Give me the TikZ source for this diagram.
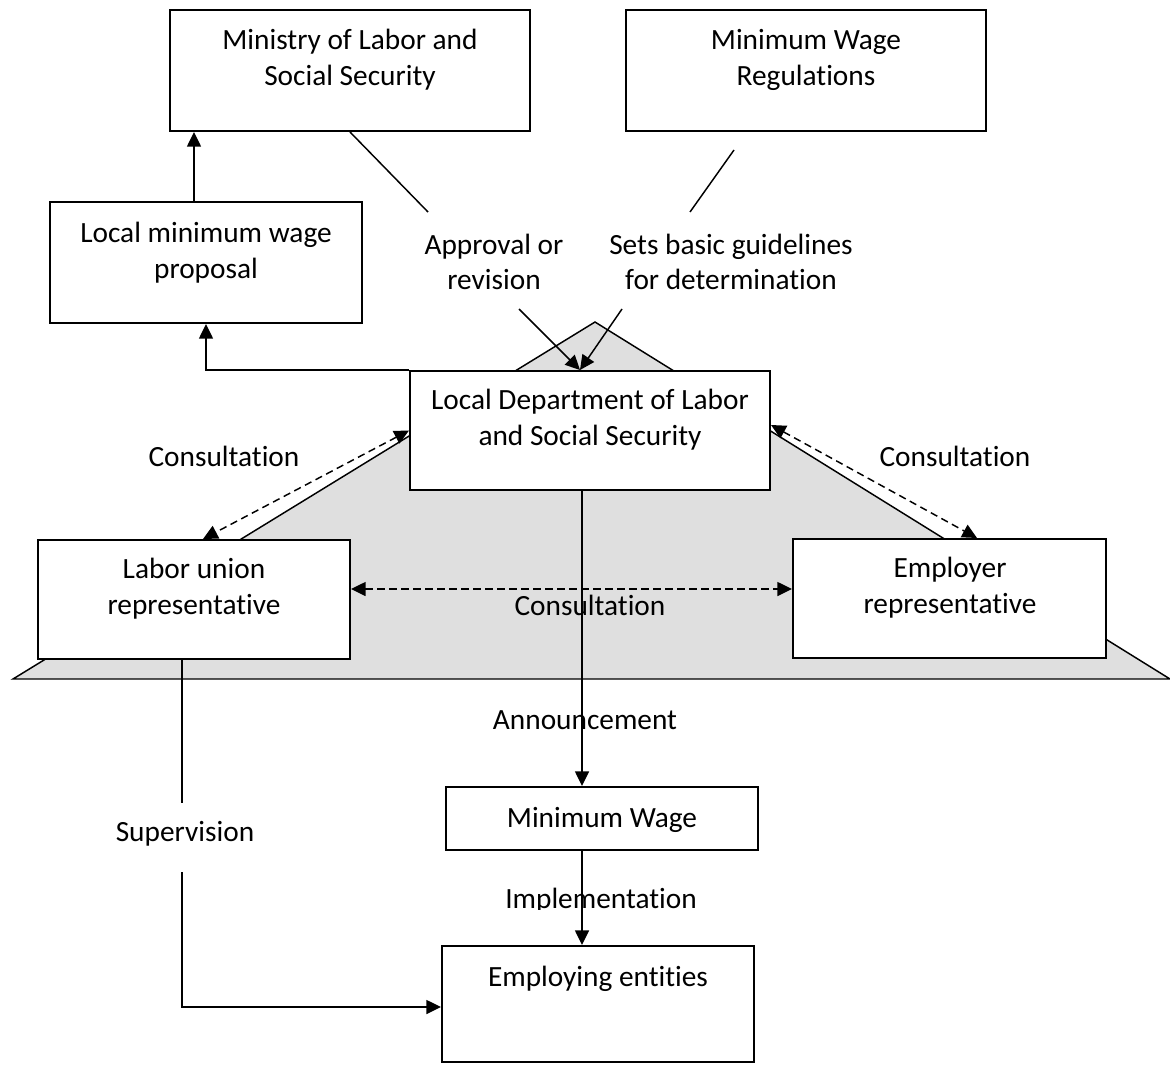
\documentclass[tikz,border=0pt]{standalone}
\usepackage{fontspec}
\setmainfont{Carlito}[Ligatures=NoCommon]
\usetikzlibrary{arrows.meta,fit,calc}
\begin{document}
\begin{tikzpicture}[x=0.75pt,y=-0.75pt,
  box/.style={draw, line width=1.5pt, fill=white, inner sep=0pt},
  txt/.style={align=center, inner sep=0pt, font=\fontsize{22}{26.8}\selectfont},
  conn/.style={line width=1.1pt},
  arr/.style={conn, -{Triangle[length=11pt,width=10.5pt]}},
  darr/.style={conn, dash pattern=on 5.5pt off 3.5pt, {Triangle[length=11pt,width=10.5pt]}-{Triangle[length=11pt,width=10.5pt]}}
]
\useasboundingbox (0,0) rectangle (1170,1064);
\fill[white] (0,0) rectangle (1170,1064);
% background triangle
\draw[fill=gray!25, line width=1.1pt] (13,679) -- (595,322) -- (1170,679) -- cycle;
% boxes
\node[box, fit={(170,10)(530,131)}] (ministry) {};
\node[box, fit={(626,10)(986,131)}] (mwr) {};
\node[box, fit={(50,202)(362,323)}] (proposal) {};
\node[box, fit={(410,371)(770,490)}] (dept) {};
\node[box, fit={(38,540)(350,659)}] (labor) {};
\node[box, fit={(793,539)(1106,658)}] (employer) {};
\node[box, fit={(446,787)(758,850)}] (minwage) {};
\node[box, fit={(442,946)(754,1062)}] (employing) {};
% box texts
\node[txt] (tministry) at (350,60) {Ministry of Labor and\\Social Security};
\node[txt] (tmwr) at (806,60) {Minimum Wage\\Regulations};
\node[txt] (tproposal) at (206,253) {Local minimum wage\\proposal};
\node[txt] (tdept) at (590,420) {Local Department of Labor\\and Social Security};
\node[txt] (tlabor) at (194,589) {Labor union\\representative};
\node[txt] (temployer) at (950,588) {Employer\\representative};
\node[txt] (tminwage) at (602,820) {Minimum Wage};
\node[txt] (temploying) at (598,979) {Employing entities};
% labels
\node[txt] (lapproval) at (494,262) {Approval or\\revision};
\node[txt] (lsets) at (731,262) {Sets basic guidelines\\for determination};
\node[txt] (lconsl) at (224,456) {Consultation};
\node[txt] (lconsr) at (955,456) {Consultation};
\node[txt] (lconsm) at (590,605) {Consultation};
\node[txt] (lannounce) at (585,720) {Announcement};
\node[txt] (lsuper) at (185,834) {Supervision};
\begin{scope}
\clip (400,860) rectangle (800,909);
\node[txt, anchor=base] (limpl) at (601,908) {Implementation};
\end{scope}
% coordinates
\coordinate (xa) at (194,0);
\coordinate (ap1) at (428,212);
\coordinate (ap2) at (519,309);
\coordinate (dtop) at (580,0);
\coordinate (g0) at (734,150);
\coordinate (g1) at (690,212);
\coordinate (g2) at (622,309);
\coordinate (xl) at (203,0);
\coordinate (dr) at (0,425);
\coordinate (xr) at (977,0);
\coordinate (ym) at (0,589);
\coordinate (xm) at (582,0);
\coordinate (s1) at (182,803);
\coordinate (s2) at (182,872);
\coordinate (s3) at (182,1007);
% connectors
\draw[arr] (proposal.north -| xa) -- (ministry.south -| xa);
\draw[arr] (dept.north west) -| (proposal.south);
\draw[conn] (ministry.south) -- (ap1);
\draw[arr] (ap2) -- (dept.north -| dtop);
\draw[conn] (g0) -- (g1);
\draw[arr] (g2) -- (dept.north -| dtop);
\draw[darr] (dept.west) -- (labor.north -| xl);
\draw[darr] (dept.east |- dr) -- (employer.north -| xr);
\draw[darr] (labor.east |- ym) -- (employer.west |- ym);
\draw[arr] (dept.south -| xm) -- (minwage.north -| xm);
\draw[arr] (minwage.south -| xm) -- (employing.north -| xm);
\draw[conn] (labor.south -| s1) -- (s1);
\draw[arr] (s2) -- (s3) -- (employing.west |- s3);
\end{tikzpicture}
\end{document}
